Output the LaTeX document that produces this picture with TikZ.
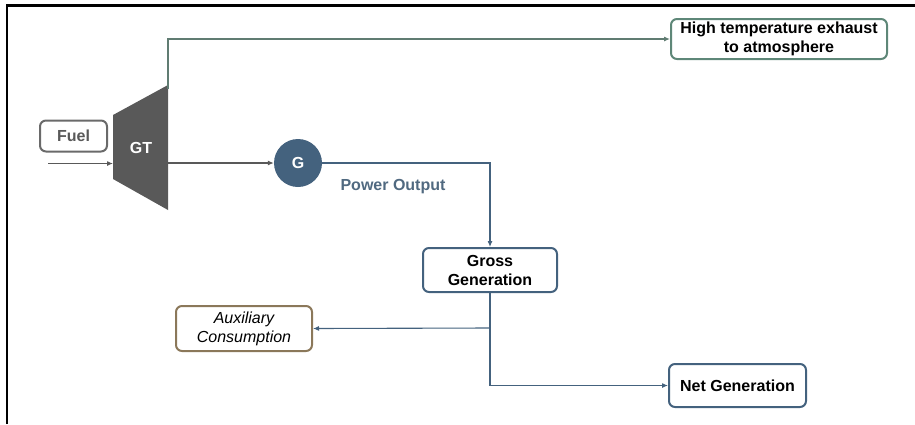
\documentclass[tikz,border=0pt]{standalone}
\usepackage{fontspec}
\setmainfont{Liberation Sans}
\usepackage{tikz}
\usetikzlibrary{arrows.meta}

\definecolor{gtgray}{RGB}{89,89,89}
\definecolor{exgreen}{RGB}{94,135,120}
\definecolor{exline}{RGB}{96,124,114}
\definecolor{steel}{RGB}{68,98,126}
\definecolor{steeltxt}{RGB}{80,105,128}
\definecolor{auxtan}{RGB}{139,120,90}

\begin{document}
\begin{tikzpicture}[x=1pt,y=1pt]
	\tikzstyle{every node}+=[inner sep=0pt]
	\tikzstyle{box}=[draw, line width=2pt, rounded corners=6pt, fill=white, align=center, font=\fontsize{16}{19}\selectfont\bfseries]
	\tikzstyle{flow}=[line width=1.1pt, -{Latex[length=6pt,width=5pt]}]
	\useasboundingbox (0,0) rectangle (915,-424);
	\draw [black, line width=2.2pt] (7,-424) -- (7,-5.5) -- (915,-5.5);
	\fill [gtgray] (113,-115) -- (168,-85) -- (168,-210) -- (113,-179) -- cycle;
	\node [white, font=\fontsize{16}{19}\selectfont\bfseries] (gt) at (141,-148) {GT};
	\coordinate (fuelin) at (48,-163.5);
	\coordinate (gtin) at (113,-163.5);
	\coordinate (gtout) at (168,-163);
	\coordinate (gttop) at (168,-89);
	\coordinate (split) at (490,-328);
	\node [box, draw=gtgray!90, minimum width=67pt, minimum height=31pt, text=gtgray] (fuel) at (73.5,-136) {Fuel};
	\node [circle, fill=steel, minimum size=48pt, text=white, font=\fontsize{16}{19}\selectfont\bfseries] (g) at (298,-163) {G};
	\node [text=steeltxt, font=\fontsize{16}{19}\selectfont\bfseries] (power) at (393,-187) {Power Output};
	\node [box, draw=exgreen, minimum width=216pt, minimum height=40pt] (exhaust) at (779,-39) {High temperature exhaust\\to atmosphere};
	\node [box, draw=steel, minimum width=134pt, minimum height=44pt] (gross) at (490,-270) {Gross\\Generation};
	\node [box, draw=auxtan, minimum width=136pt, minimum height=45pt, font=\fontsize{16}{19}\selectfont\itshape] (aux) at (244,-328.5) {Auxiliary\\Consumption};
	\node [box, draw=steel, minimum width=137pt, minimum height=43pt] (net) at (737.5,-385.5) {Net Generation};
	\draw [flow, gtgray] (fuelin) -- (gtin);
	\draw [flow, gtgray] (gtout) -- (g);
	\draw [flow, exline] (gttop) |- (exhaust.west);
	\draw [flow, steel] (g.east) -| (gross.north);
	\draw [flow, steel] (gross.south) |- (net.west);
	\draw [flow, steel] (split) -- (aux.east);
\end{tikzpicture}
\end{document}
